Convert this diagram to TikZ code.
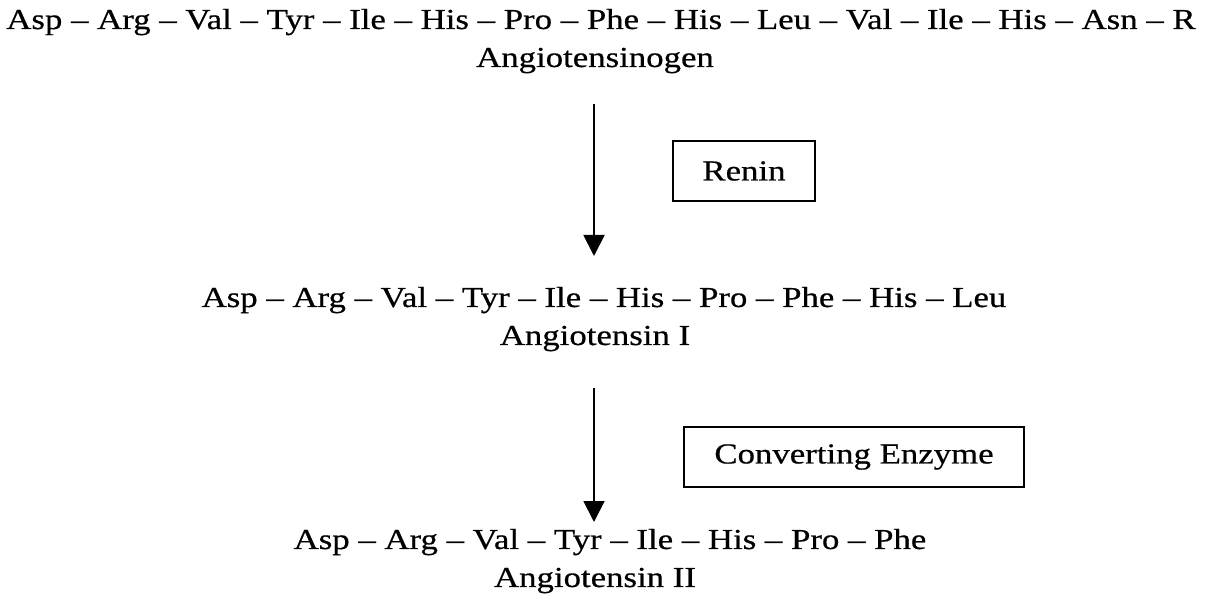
\documentclass[tikz,border=0pt]{standalone}
\usepackage{fontspec}
\setmainfont[FakeStretch=1.2,FakeBold=0.6]{Liberation Serif}
\usetikzlibrary{arrows.meta}

\begin{document}
\begin{tikzpicture}[x=0.02cm,y=-0.02cm,
  peptide/.style={font=\fontsize{16.5}{20}\selectfont,inner sep=0pt,anchor=base},
  pname/.style={font=\fontsize{16.5}{20}\selectfont,inner sep=0pt,anchor=base},
  enzbox/.style={draw,line width=1.1pt,font=\fontsize{16.5}{20}\selectfont,
    minimum height=60*0.02cm},
  react/.style={line width=1.1pt,-{Triangle[length=0.42cm,width=0.42cm]}}]
  \useasboundingbox (0,0) rectangle (1211,607);

  \node [peptide] (P0) at (601,29) {Asp -- Arg -- Val -- Tyr -- Ile -- His -- Pro -- Phe -- His -- Leu -- Val -- Ile -- His -- Asn -- R};
  \node [pname] (N0) at (595,67) {Angiotensinogen};

  \node [peptide] (P1) at (604,307) {Asp -- Arg -- Val -- Tyr -- Ile -- His -- Pro -- Phe -- His -- Leu};
  \node [pname] (N1) at (595,345) {Angiotensin I};

  \node [peptide] (P2) at (610,549) {Asp -- Arg -- Val -- Tyr -- Ile -- His -- Pro -- Phe};
  \node [pname] (N2) at (595,587) {Angiotensin II};

  \node [enzbox,minimum width=142*0.02cm] (E1) at (744,171) {Renin};
  \node [enzbox,minimum width=340*0.02cm] (E2) at (854,457) {Converting Enzyme};

  \coordinate (A0) at (594,104);
  \coordinate (B0) at (594,256);
  \coordinate (A1) at (594,388);
  \coordinate (B1) at (594,522);
  \draw [react] (A0) -- (B0);
  \draw [react] (A1) -- (B1);
\end{tikzpicture}
\end{document}
